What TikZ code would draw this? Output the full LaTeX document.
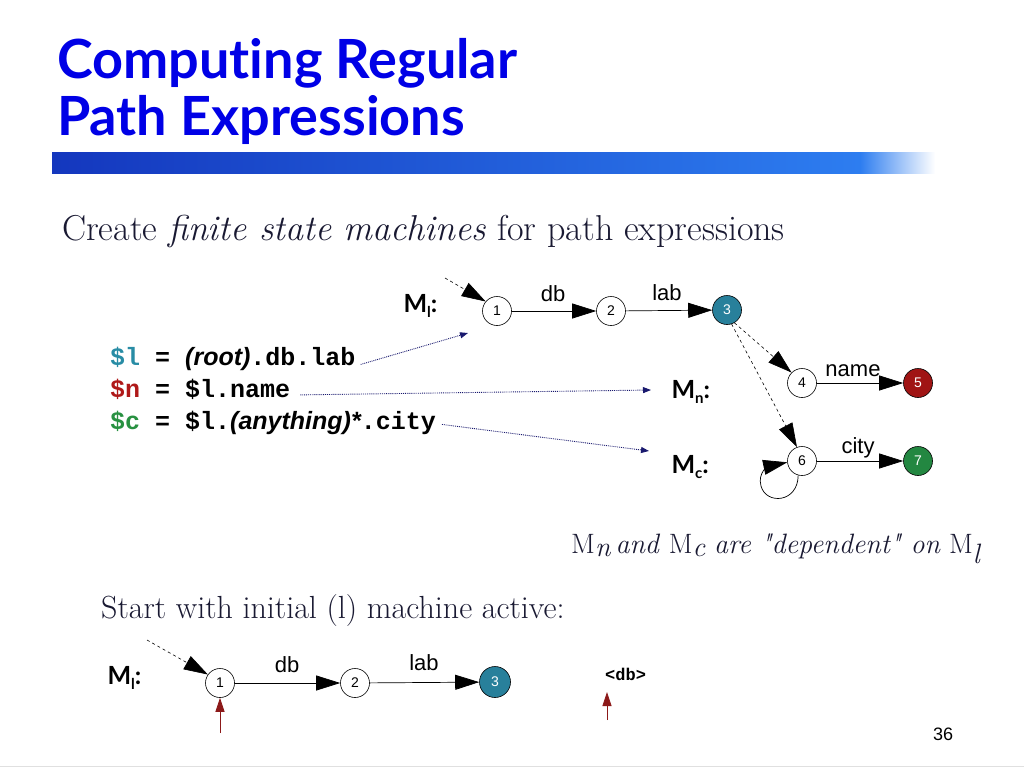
\documentclass[tikz,border=0pt]{standalone}
\usepackage{fontspec}
\usetikzlibrary{arrows.meta}
\newfontfamily\titlefont[Ligatures=NoCommon]{Lato}
\newfontfamily\helv{Liberation Sans}
\newfontfamily\cour{Liberation Mono}
\definecolor{titleblue}{RGB}{0,0,230}
\definecolor{navy}{RGB}{25,25,110}
\definecolor{tealc}{RGB}{40,128,155}
\definecolor{redc}{RGB}{160,20,20}
\definecolor{greenc}{RGB}{35,135,65}
\definecolor{codeteal}{RGB}{40,140,165}
\definecolor{codered}{RGB}{175,25,25}
\definecolor{codegreen}{RGB}{40,145,65}
\definecolor{darkred}{RGB}{140,25,25}
\definecolor{subcol}{RGB}{25,25,50}
\tikzset{
  st/.style={circle,draw,line width=0.6pt,minimum size=29pt,inner sep=0pt,font=\helv\fontsize{14}{14}\selectfont},
  stfill/.style={st,fill=#1,text=white},
  tr/.style={line width=0.7pt,-{Triangle[length=24pt,width=15pt]}},
  entry/.style={dashed,line width=0.6pt,-{Triangle[length=24pt,width=15pt]}},
  dot/.style={densely dotted,line width=0.9pt,navy,-{Triangle[length=8pt,width=6pt]}},
  up/.style={line width=0.8pt,darkred,-{Triangle[length=14pt,width=9pt]}},
  elab/.style={font=\helv\fontsize{22}{22}\selectfont,anchor=base},
  mlab/.style={font=\titlefont\bfseries\fontsize{25}{25}\selectfont,anchor=base west},
  code/.style={font=\cour\bfseries\fontsize{25}{25}\selectfont,anchor=base west,inner sep=0pt}
}
\begin{document}
\begin{tikzpicture}[x=1pt,y=-1pt]
\useasboundingbox (0,0) rectangle (1024,768);
% title
\node[anchor=base west,inner sep=0pt,text=titleblue,font=\titlefont\bfseries\fontsize{54}{54}\selectfont] (t1) at (57,78) {Computing Regular};
\node[anchor=base west,inner sep=0pt,text=titleblue,font=\titlefont\bfseries\fontsize{54}{54}\selectfont] (t2) at (57,135) {Path Expressions};
% bar
\shade[left color={rgb,255:red,20;green,55;blue,190},right color={rgb,255:red,45;green,125;blue,240}] (52,152) rectangle (860,173);
\shade[left color={rgb,255:red,45;green,125;blue,240},right color=white] (860,152) rectangle (935,173);
% subtitle
\node[anchor=base west,inner sep=0pt,text=subcol,font=\fontsize{36}{36}\selectfont] (sub) at (62,240) {Create \textit{finite state machines} for path expressions};
% top machine M_l
\node[mlab] (ml) at (400,312) {M\raisebox{-5pt}{\fontsize{15}{15}\selectfont l}:};
\node[st] (a1) at (497,311) {1};
\node[st] (a2) at (611,311) {2};
\node[stfill=tealc] (a3) at (727,310) {3};
\coordinate (e1) at (445,278);
\draw[entry] (e1) -- (a1.140);
\draw[tr] (a1) -- (a2);
\draw[tr] (a2) -- (a3);
\node[elab] (ldb) at (553,301) {db};
\node[elab] (llab) at (667,300) {lab};
% M_n
\node[mlab] (mn) at (668,398) {M\raisebox{-5pt}{\fontsize{15}{15}\selectfont n}:};
\node[st] (a4) at (802,383) {4};
\node[stfill=redc] (a5) at (918,383) {5};
\draw[tr] (a4) -- (a5);
\node[elab] (lname) at (853,376) {name};
% M_c
\node[mlab] (mc) at (668,473) {M\raisebox{-5pt}{\fontsize{15}{15}\selectfont c}:};
\node[st] (a6) at (802,461) {6};
\node[stfill=greenc] (a7) at (918,461) {7};
\draw[tr] (a6) -- (a7);
\node[elab] (lcity) at (858,453) {city};
\draw[tr] (a6.255) .. controls (798,503) and (766,505) .. (761,486) .. controls (757,472) and (770,466) .. (a6.185);
% dependency dashed
\draw[entry] (a3.-60) -- (a4.135);
\draw[entry] (a3.-72) -- (a6.110);
% code lines
\node[code] (c1) at (110,365) {\textcolor{codeteal}{\$l} = {\helv\itshape (root)}.db.lab};
\node[code] (c2) at (110,397) {\textcolor{codered}{\$n} = \$l.name};
\node[code] (c3) at (110,429) {\textcolor{codegreen}{\$c} = \$l.{\helv\itshape (anything)*}.city};
\coordinate (d1) at (468,333);
\coordinate (d2) at (651,390);
\coordinate (d3) at (649,451);
\draw[dot] ([xshift=5pt,yshift=-6pt]c1.east) -- (d1);
\draw[dot] ([xshift=10pt,yshift=-6pt]c2.east) -- (d2);
\draw[dot] ([xshift=6pt,yshift=-2pt]c3.east) -- (d3);
% dependent note
\node[anchor=base west,inner sep=0pt,text=subcol,font=\fontsize{28}{28}\selectfont] (dep) at (571,553) {M$_{\textit{n}}$\,\textit{and} M$_{\textit{c}}$ \textit{are \textquotedbl dependent\textquotedbl{} on} M$_{\textit{l}}$};
% start
\node[anchor=base west,inner sep=0pt,text=subcol,font=\fontsize{32}{32}\selectfont] (start) at (101,618) {Start with initial (l) machine active:};
% bottom machine
\node[mlab] (ml2) at (104,684) {M\raisebox{-5pt}{\fontsize{15}{15}\selectfont l}:};
\node[st] (b1) at (220,683) {1};
\node[st] (b2) at (355,683) {2};
\node[stfill=tealc,minimum size=31pt] (b3) at (495,682) {3};
\coordinate (e2) at (147,640);
\draw[entry] (e2) -- (b1.145);
\draw[tr] (b1) -- (b2);
\draw[tr] (b2) -- (b3);
\node[elab] (bdb) at (287,672) {db};
\node[elab] (blab) at (424,670) {lab};
\node[anchor=base west,inner sep=0pt,font=\cour\bfseries\fontsize{17}{17}\selectfont] (tag) at (605,680) {<db>};
\coordinate (p1) at (220,733);
\coordinate (p2) at (607,720);
\draw[up] (p1) -- (b1.south);
\draw[up] (p2) -- (607,692);
% page number
\node[anchor=base,inner sep=0pt,font=\helv\fontsize{18}{18}\selectfont] (num) at (943,740) {36};
\draw[black!12,line width=1pt] (0,766) -- (1024,766);
\end{tikzpicture}
\end{document}
